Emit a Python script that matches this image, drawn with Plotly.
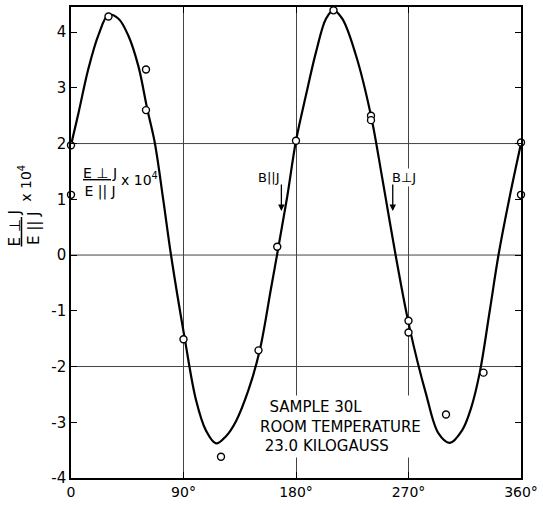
import plotly.graph_objects as go

# ---- data ----
curve_angle = [0, 6, 14, 22, 30, 38, 46, 54, 61, 67, 74, 80, 91, 100, 108, 116,
               124, 132, 142, 151, 160, 166, 173, 180, 188, 196, 204, 210, 217,
               228, 240, 249, 260, 271, 284, 294, 303, 313, 320, 327, 335, 342,
               351, 360]
curve_value = [1.97, 2.55, 3.35, 3.95, 4.31, 4.24, 3.93, 3.38, 2.62, 2.02, 0.96,
               0.0, -1.5, -2.6, -3.15, -3.38, -3.25, -2.98, -2.42, -1.71, -0.6,
               0.15, 1.05, 2.05, 2.87, 3.64, 4.24, 4.39, 4.24, 3.58, 2.5, 1.38,
               -0.04, -1.32, -2.49, -3.2, -3.37, -3.14, -2.75, -2.11, -1.0,
               0.0, 1.05, 2.0]

point_angle = [0, 0, 30, 60, 60, 90, 120, 150, 165, 180, 210, 240, 240, 270,
               270, 300, 330, 360, 360]
point_value = [1.97, 1.08, 4.28, 3.33, 2.6, -1.51, -3.62, -1.71, 0.15, 2.05,
               4.39, 2.5, 2.42, -1.18, -1.39, -2.86, -2.11, 2.02, 1.08]

x_tick_vals = [0, 90, 180, 270, 360]
x_tick_text = ["0", "90°", "180°", "270°", "360°"]
y_tick_vals = [-4, -3, -2, -1, 0, 1, 2, 3, 4]
y_tick_text = ["-4", "-3", "-2", "-1", "0", "1", "2", "3", "4"]
y_grid = [-2, 0, 2]
sample_lines = ["&nbsp;&nbsp;SAMPLE 30L", "ROOM TEMPERATURE", "&nbsp;23.0 KILOGAUSS"]

FONT = "DejaVu Sans"

fig = go.Figure()
fig.add_trace(go.Scatter(
    x=curve_angle, y=curve_value, mode="lines",
    line=dict(color="black", width=2.2, shape="spline", smoothing=1.0),
    hoverinfo="skip", showlegend=False))
fig.add_trace(go.Scatter(
    x=point_angle, y=point_value, mode="markers",
    marker=dict(symbol="circle", size=7, color="white",
                line=dict(color="black", width=1.4)),
    cliponaxis=False, showlegend=False))

shapes = []
for g in y_grid:
    shapes.append(dict(type="line", xref="paper", x0=0, x1=1, yref="y", y0=g, y1=g,
                       line=dict(color="#444", width=1), layer="below"))

annotations = [
    # in-plot label
    dict(x=23.5, y=1.3, text="<u>E ⊥ J</u><br>E || J", showarrow=False,
         font=dict(family=FONT, size=14, color="black")),
    dict(x=55, y=1.36, text="x 10<sup>4</sup>", showarrow=False,
         font=dict(family=FONT, size=14, color="black")),
    # B || J
    dict(x=158, y=1.39, text="B||J", showarrow=False,
         font=dict(family=FONT, size=13, color="black")),
    dict(x=168.3, y=0.79, ax=0, ay=-28, text="", showarrow=True,
         arrowhead=2, arrowsize=1, arrowwidth=1.3, arrowcolor="black"),
    # B perp J
    dict(x=266, y=1.39, text="B⊥J", showarrow=False, bgcolor="white",
         font=dict(family=FONT, size=13, color="black")),
    dict(x=257.4, y=0.79, ax=0, ay=-28, text="", showarrow=True,
         arrowhead=2, arrowsize=1, arrowwidth=1.3, arrowcolor="black"),
    # y-axis title
    dict(xref="paper", yref="paper", x=-0.103, y=0.531, textangle=-90,
         xanchor="center", yanchor="middle",
         text="<u>E ⊥ J</u><br>E || J", showarrow=False,
         font=dict(family=FONT, size=15, color="black")),
    dict(xref="paper", yref="paper", x=-0.102, y=0.625, textangle=-90,
         xanchor="center", yanchor="middle",
         text="x 10<sup>4</sup>", showarrow=False,
         font=dict(family=FONT, size=14, color="black")),
    # sample description
    dict(x=148.5, y=-3.07, xanchor="left", yanchor="middle",
         text="<br>".join(sample_lines), align="left",
         showarrow=False, bgcolor="white", borderpad=2,
         font=dict(family=FONT, size=15, color="black")),
]

fig.update_layout(
    width=543, height=506,
    margin=dict(l=71, r=21, t=5, b=28),
    paper_bgcolor="white", plot_bgcolor="white",
    font=dict(family=FONT, size=14, color="black"),
    xaxis=dict(range=[0, 360], tickvals=x_tick_vals, ticktext=x_tick_text,
               showgrid=True, gridcolor="#444", gridwidth=1, zeroline=False,
               showline=True, linecolor="black", linewidth=1.5, mirror="ticks",
               ticks="inside", ticklen=6, tickcolor="black",
               tickfont=dict(family=FONT, size=14, color="black")),
    yaxis=dict(range=[-4, 4.45], tickvals=y_tick_vals, ticktext=y_tick_text,
               showgrid=False, zeroline=False,
               showline=True, linecolor="black", linewidth=1.5, mirror="ticks",
               ticks="inside", ticklen=6, tickcolor="black",
               tickfont=dict(family=FONT, size=15, color="black")),
    shapes=shapes, annotations=annotations,
)

fig.write_html("out.html", config={"displayModeBar": False},
               post_script="document.body.style.margin='0px';")
